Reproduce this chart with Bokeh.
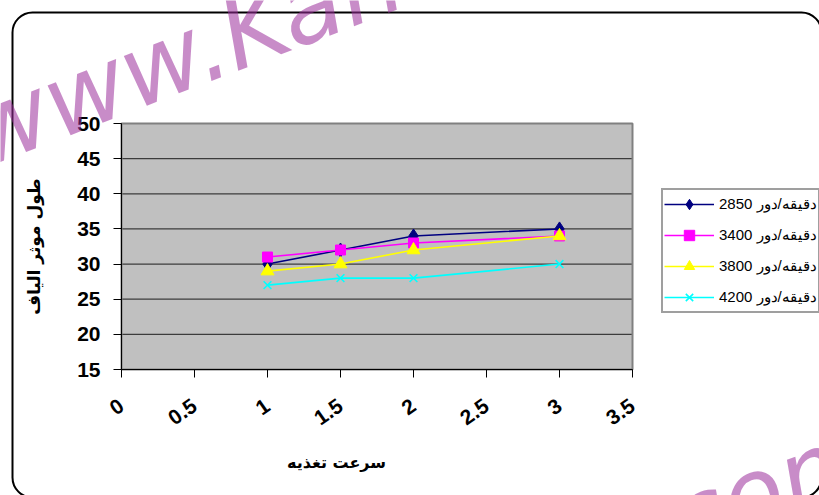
import math
from bokeh.plotting import figure
from bokeh.models import (Legend, LegendItem, Label, BoxAnnotation, FixedTicker, Range1d)
from bokeh.embed import file_html
from bokeh.resources import INLINE

# ---- data -------------------------------------------------------------
feed_speed = [1, 1.5, 2, 3]
len_2850 = [30, 32, 34, 35]
len_3400 = [31, 32, 33, 34]
len_3800 = [29, 30, 32, 34]
len_4200 = [27, 28, 28, 30]
series_labels = ["2850 دقیقه/دور", "3400 دقیقه/دور", "3800 دقیقه/دور", "4200 دقیقه/دور"]
x_ticks = [0, 0.5, 1, 1.5, 2, 2.5, 3, 3.5]
y_ticks = [15, 20, 25, 30, 35, 40, 45, 50]
x_title = "سرعت تغذیه"
y_title = "طول موثر الیاف"
watermark_1 = "www.Kan"
watermark_2 = "com"

# ---- layout (pixels) --------------------------------------------------
W, H = 819, 495
PL, PR, PT, PB = 121, 632, 123, 369          # plot-area box on the canvas
x0, x1 = x_ticks[0], x_ticks[-1]
y0, y1 = y_ticks[0], y_ticks[-1]
kx = (PR - PL) / (x1 - x0)
ky = (PB - PT) / (y1 - y0)
def dx(px):
    return x0 + (px - PL) / kx
def dy(py):
    return y0 + (PB - py) / ky

p = figure(width=W, height=H, output_backend="svg", toolbar_location=None,
           x_range=Range1d(dx(0), dx(W)), y_range=Range1d(dy(H), dy(0)),
           min_border=0)
p.background_fill_color = "white"
p.border_fill_color = "white"
p.outline_line_color = None
p.xgrid.visible = False
p.ygrid.visible = False

# plot area + horizontal gridlines
p.quad(left=[x0], right=[x1], bottom=[y0], top=[y1], fill_color="#c0c0c0",
       line_color=None)
p.segment(x0=[x0] * len(y_ticks), x1=[x1] * len(y_ticks), y0=y_ticks, y1=y_ticks,
          line_color="#3c3c3c", line_width=1.2)
p.quad(left=[x0], right=[x1], bottom=[y0], top=[y1], fill_color=None,
       line_color="#808080", line_width=2)

p.xaxis.ticker = FixedTicker(ticks=x_ticks)
p.yaxis.ticker = FixedTicker(ticks=y_ticks)
p.xaxis.major_label_overrides = {0: "0", 1: "1", 2: "2", 3: "3"}
p.xaxis.fixed_location = y0
p.yaxis.fixed_location = x0
p.xaxis.bounds = (x0, x1)
p.yaxis.bounds = (y0, y1)

for ax in (p.xaxis, p.yaxis):
    ax.axis_line_color = "black"
    ax.axis_line_width = 1
    ax.major_tick_line_color = "black"
    ax.major_tick_out = 8
    ax.major_tick_in = 0
    ax.minor_tick_line_color = None
    ax.major_label_text_font = "Liberation Sans"
    ax.major_label_text_font_style = "bold"
    ax.major_label_text_font_size = "21px"
    ax.major_label_text_color = "black"
    ax.axis_label_text_font = "DejaVu Sans"
    ax.axis_label_text_font_style = "bold"
    ax.axis_label_text_color = "black"

p.yaxis.major_label_standoff = 13
p.yaxis.axis_label = y_title
p.yaxis.axis_label_text_font_size = "17px"
p.yaxis.axis_label_standoff = 30
p.xaxis.major_label_orientation = math.radians(35)
p.xaxis.major_label_standoff = 26

# x-axis title (sits left of centre, as in the original)
p.add_layout(Label(x=dx(336), y=dy(462), text=x_title, text_font="DejaVu Sans",
                   text_font_style="bold", text_font_size="16px", text_color="black",
                   text_align="center", text_baseline="middle"))

styles = [
    (len_2850, "#000080", "diamond", 14, 1),
    (len_3400, "#ff00ff", "square", 10, 1),
    (len_3800, "#ffff00", "triangle", 13, 1),
    (len_4200, "#00ffff", "x", 11, 1.6),
]
items = []
for (ys, color, marker, size, lw), lab in zip(styles, series_labels):
    lr = p.line(feed_speed, ys, line_color=color, line_width=1.6)
    sr = p.scatter(feed_speed, ys, marker=marker, size=size, fill_color=color,
                   line_color=color, line_width=lw)
    items.append(LegendItem(label=lab, renderers=[lr, sr]))

legend = Legend(items=items, location=(661, H - 313), orientation="vertical",
                glyph_width=50, glyph_height=26, label_height=26,
                label_standoff=5, spacing=5, padding=1, margin=0,
                label_text_font="Liberation Sans", label_text_font_size="15px",
                label_text_color="black",
                border_line_color="#404040", border_line_width=2,
                background_fill_color="white", background_fill_alpha=1)
p.add_layout(legend, "center")

# outer rounded chart border
border = BoxAnnotation(left=dx(12), right=dx(W + 2), top=dy(12), bottom=dy(H + 2),
                       fill_alpha=0, line_color="black", line_alpha=1, line_width=2,
                       border_radius=20, level="overlay")
p.add_layout(border)

# watermark
for txt, (px, py) in ((watermark_1, (-30, 136)), (watermark_2, (672, 525))):
    lab = Label(x=dx(px), y=dy(py), text=txt,
                angle=math.radians(21), text_font="DejaVu Sans",
                text_font_style="italic",
                text_font_size="100px", text_color="#9b2e9b", text_alpha=0.55,
                text_align="left", text_baseline="alphabetic", level="overlay")
    p.add_layout(lab)

open("out.html", "w").write(file_html(p, INLINE))
